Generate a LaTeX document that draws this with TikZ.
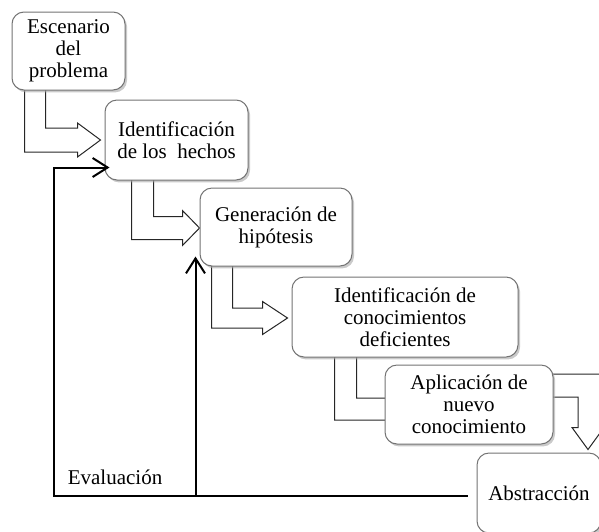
\documentclass[tikz,border=0pt]{standalone}
\usepackage{fontspec}
\setmainfont{Liberation Serif}
\usetikzlibrary{calc,shadows,arrows.meta,backgrounds}

\begin{document}
\begin{tikzpicture}[x=0.5pt,y=-0.5pt,
    paso/.style={draw=black!55, line width=0.5pt, rounded corners=6pt, fill=white,
      drop shadow={shadow xshift=1pt, shadow yshift=-1.2pt, fill=black!35, opacity=0.6},
      align=center, font=\fontsize{10.5}{11}\selectfont, inner sep=1pt},
    flecha/.style={draw=black!85, line width=0.5pt},
    retorno/.style={draw=black, line width=1pt, -{Straight Barb[length=7.5pt,width=9.5pt]}}]
    \useasboundingbox (0,0) rectangle (599,531);
    \clip (0,0) rectangle (599,531);

    \node[paso, minimum width=56.5pt, minimum height=39pt] (escenario) at (68.5,51) {Escenario\\del\\problema};
    \node[paso, minimum width=71.5pt, minimum height=40pt] (hechos) at (176.5,140) {Identificación\\de los\ \ hechos};
    \node[paso, minimum width=76pt, minimum height=39pt] (hipotesis) at (276,227) {Generación de\\hipótesis};
    \node[paso, minimum width=113pt, minimum height=40pt] (deficientes) at (405,317) {Identificación de\\conocimientos\\deficientes};
    \node[paso, minimum width=84pt, minimum height=39.5pt] (aplicacion) at (469,404.5) {Aplicación de\\nuevo\\conocimiento};
    \node[paso, minimum width=62pt, minimum height=40pt] (abstraccion) at (539,493) {Abstracción};
    \node[font=\fontsize{10.5}{11}\selectfont] (evaluacion) at (115,477) {Evaluación};

    % flechas de bloque entre los pasos
    \begin{pgfonlayer}{background}
        \draw[flecha] ($(escenario.south west)+(13,-2)$) |- ($(hechos.west)+(-27,12)$) -- ++(0,5) -- ($(hechos.west)+(-4,0)$) -- ++(-23,-17) -- ++(0,5) -| ($(escenario.south west)+(34,-2)$);
        \draw[flecha] ($(hechos.south west)+(27,-2)$) |- ($(hipotesis.west)+(-17,12.5)$) -- ++(0,6) -- ($(hipotesis.west)+(0,1)$) -- ++(-17,-17.5) -- ++(0,6) -| ($(hechos.south west)+(49,-2)$);
        \draw[flecha] ($(hipotesis.south west)+(12,-2)$) |- ($(deficientes.west)+(-29,11)$) -- ++(0,6.5) -- ($(deficientes.west)+(-4,1)$) -- ++(-25,-16.5) -- ++(0,6.5) -| ($(hipotesis.south west)+(33,-2)$);
        \draw[flecha] ($(deficientes.south west)+(43,-2)$) |- ($(aplicacion.west)+(10,15.5)$) -- ++(0,6) -- ($(aplicacion.west)+(28,4.5)$) -- ++(-18,-17) -- ++(0,6) -| ($(deficientes.south west)+(65,-2)$);
        \draw[flecha] ($(aplicacion.east)+(-2,-30.5)$) -| ($(abstraccion.north)+(62,-25)$) -- ++(3,0) -- ($(abstraccion.north)+(49,-3)$) -- ++(-16,-22) -- ++(6,0) |- ($(aplicacion.east)+(-2,-7.5)$);
    \end{pgfonlayer}

    % lazos de evaluacion
    \coordinate (evalinicio) at ($(abstraccion.west)+(-9,3)$);
    \coordinate (esquina) at (54,496);
    \coordinate (hacia hechos) at ($(hechos.south west)+(5,-13)$);
    \coordinate (hacia hipotesis) at ($(hipotesis.south west)+(-4,-10)$);
    \draw[retorno] (evalinicio) -- (esquina) |- (hacia hechos);
    \draw[retorno] (hacia hipotesis |- esquina) -- (hacia hipotesis);
\end{tikzpicture}
\end{document}
